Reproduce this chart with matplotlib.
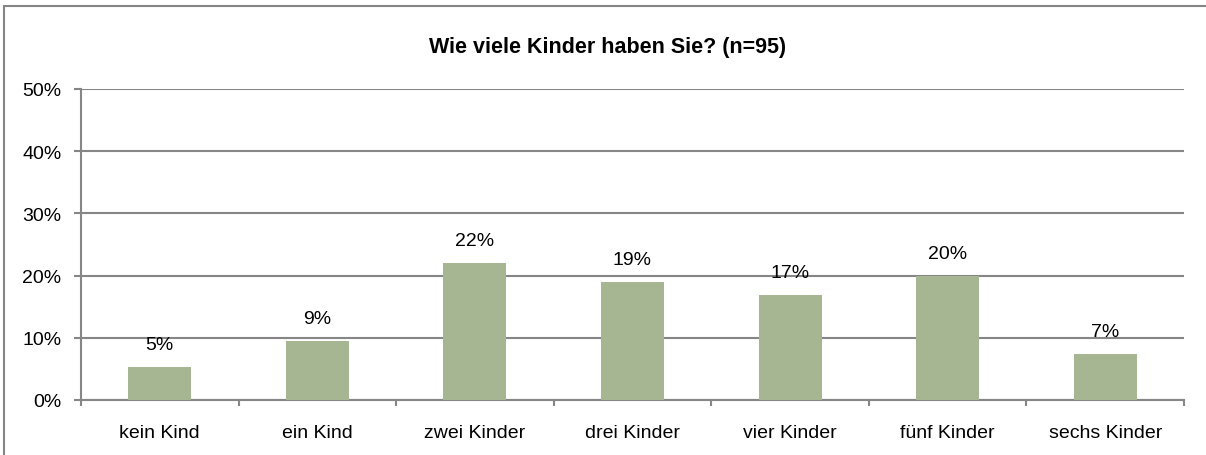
import matplotlib
matplotlib.use('Agg')
import matplotlib.pyplot as plt
from matplotlib.patches import Rectangle
from matplotlib.ticker import FixedLocator, FuncFormatter

plt.rcParams['font.family'] = ['Liberation Sans', 'DejaVu Sans']

categories = ['kein Kind', 'ein Kind', 'zwei Kinder', 'drei Kinder',
              'vier Kinder', 'fünf Kinder', 'sechs Kinder']
counts = [5, 9, 21, 18, 16, 19, 7]
n_total = 95
shares = [c / n_total * 100 for c in counts]
labels = ['5%', '9%', '22%', '19%', '17%', '20%', '7%']

BAR_COLOR = '#a6b592'
GRID_COLOR = '#868686'
FS = 14

fig = plt.figure(figsize=(12.06, 4.56), dpi=100)
ax = fig.add_axes([81 / 1206, 1 - 401 / 456, (1184 - 81) / 1206, (401 - 90) / 456])

x = list(range(len(categories)))
ax.bar(x, shares, width=0.4, color=BAR_COLOR, zorder=3)
for xi, v, lab in zip(x, shares, labels):
    ax.annotate(lab, (xi, v), xytext=(0, 10), textcoords='offset points',
                ha='center', va='bottom', fontsize=FS, color='black')

ax.set_xlim(-0.5, len(categories) - 0.5)
ax.set_ylim(0, 50)
ax.set_yticks([0, 10, 20, 30, 40, 50])
ax.yaxis.set_major_formatter(FuncFormatter(lambda v, p: f'{v:.0f}%'))
ax.yaxis.grid(True, color=GRID_COLOR, lw=1.5, zorder=0)

ax.set_xticks(x)
ax.set_xticklabels(categories)
ax.xaxis.set_minor_locator(FixedLocator([i - 0.5 for i in range(len(categories) + 1)]))
ax.tick_params(axis='x', which='major', length=0, pad=17, labelsize=FS)
ax.tick_params(axis='x', which='minor', length=4.5, width=1.5, color=GRID_COLOR, direction='out')
ax.tick_params(axis='y', length=5, width=1.5, color=GRID_COLOR, labelsize=FS, pad=9)

for s in ['top', 'right']:
    ax.spines[s].set_visible(False)
for s in ['left', 'bottom']:
    ax.spines[s].set_color(GRID_COLOR)
    ax.spines[s].set_linewidth(1.5)

fig.text(608 / 1206, 1 - 47 / 456, 'Wie viele Kinder haben Sie? (n=95)',
         ha='center', va='center', fontsize=15.5, fontweight='bold')

# outer chart frame, only its top and left edges fall inside the image
fig.patches.append(Rectangle((4 / 1206, -0.05), 1.2, 1 - 7 / 456 + 0.05,
                             transform=fig.transFigure, fill=False,
                             ec=GRID_COLOR, lw=1.5))

fig.savefig('out.png', dpi=100)
